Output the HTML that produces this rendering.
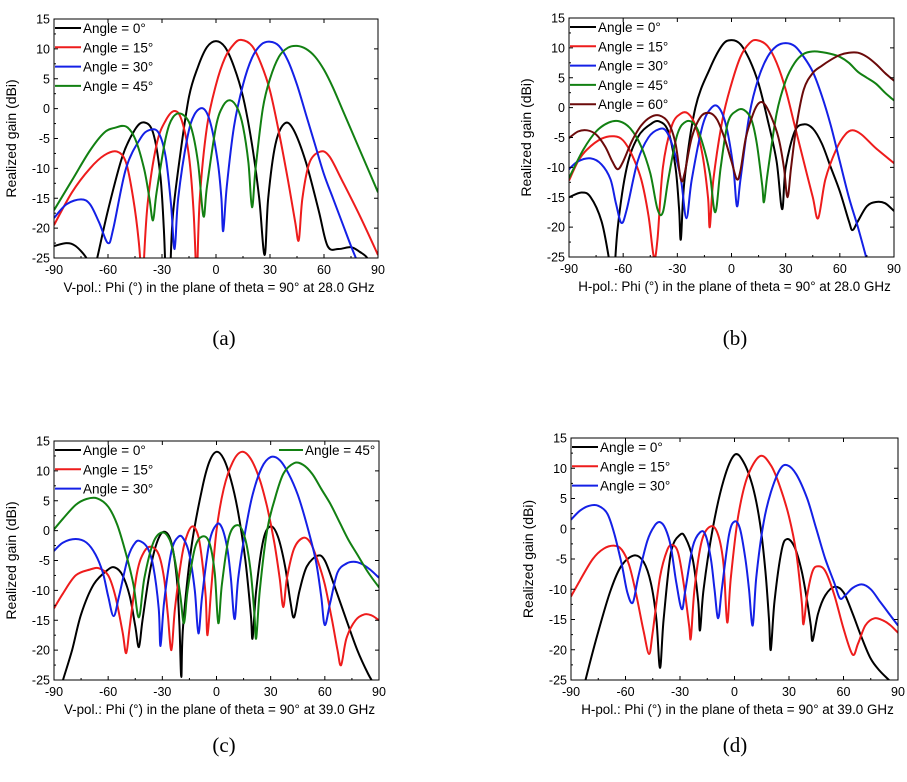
<!DOCTYPE html>
<html><head><meta charset="utf-8"><style>
body{margin:0;background:#fff;}
svg text{font-family:"Liberation Sans",Arial,sans-serif;}
</style></head><body>
<svg id="s" width="907" height="777" xmlns="http://www.w3.org/2000/svg"></svg>
<script>
const S=document.getElementById('s');
const NS='http://www.w3.org/2000/svg';
function el(t,a,txt){const e=document.createElementNS(NS,t);for(const k in a)e.setAttribute(k,a[k]);if(txt!==undefined)e.textContent=txt;S.appendChild(e);return e;}
const C={k:'#000',r:'#ee1c1c',b:'#1420e6',g:'#128012',m:'#6b0a0a'};
function path(P,X,Y){
 let d='M'+X(P[0][0]).toFixed(1)+','+Y(P[0][1]).toFixed(1);
 for(let i=0;i<P.length-1;i++){const p0=P[Math.max(0,i-1)],p1=P[i],p2=P[i+1],p3=P[Math.min(P.length-1,i+2)];
  const x1=X(p1[0])+(X(p2[0])-X(p0[0]))/6,y1=Y(p1[1])+(Y(p2[1])-Y(p0[1]))/6;
  const x2=X(p2[0])-(X(p3[0])-X(p1[0]))/6,y2=Y(p2[1])-(Y(p3[1])-Y(p1[1]))/6;
  d+=' C'+x1.toFixed(1)+','+y1.toFixed(1)+' '+x2.toFixed(1)+','+y2.toFixed(1)+' '+X(p2[0]).toFixed(1)+','+Y(p2[1]).toFixed(1);}
 return d;}
let cid=0;
function plot(L,R,T,B,xlabel,series,legend,leg2,sub,subx,suby){
 const X=v=>L+(v+90)/180*(R-L),Y=v=>T+(15-v)/40*(B-T);
 const id='c'+(cid++);
 const cp=el('clipPath',{id:id});const rc=document.createElementNS(NS,'rect');cp.appendChild(rc);
 rc.setAttribute('x',L);rc.setAttribute('y',T);rc.setAttribute('width',R-L);rc.setAttribute('height',B-T);
 for(const [c,P] of series){el('path',{d:path(P,X,Y),fill:'none',stroke:C[c],'stroke-width':2,'clip-path':'url(#'+id+')'});}
 el('rect',{x:L,y:T,width:R-L,height:B-T,fill:'none',stroke:'#000','stroke-width':1});
 for(let v=-25;v<=15;v+=5){el('line',{x1:L,x2:L+4,y1:Y(v),y2:Y(v),stroke:'#000'});el('line',{x1:R,x2:R-4,y1:Y(v),y2:Y(v),stroke:'#000'});
  el('text',{x:L-4,y:Y(v)+4.5,'text-anchor':'end','font-size':12.5},v);
  if(v<15){el('line',{x1:L,x2:L+2,y1:Y(v+2.5),y2:Y(v+2.5),stroke:'#000'});}}
 for(let v=-90;v<=90;v+=30){el('line',{x1:X(v),x2:X(v),y1:B,y2:B-4,stroke:'#000'});el('line',{x1:X(v),x2:X(v),y1:T,y2:T+4,stroke:'#000'});
  el('text',{x:X(v),y:B+16,'text-anchor':'middle','font-size':12.5},v);
  if(v<90)el('line',{x1:X(v+15),x2:X(v+15),y1:B,y2:B-2,stroke:'#000'});}
 el('text',{x:(L+R)/2+3,y:B+34,'text-anchor':'middle','font-size':13.4},xlabel);
 const ty=(T+B)/2;el('text',{x:0,y:0,transform:'translate('+(L-38)+','+ty+') rotate(-90)','text-anchor':'middle','font-size':14},'Realized gain (dBi)');
 legend.forEach((a,i)=>{const y=T+9+i*19.3;el('line',{x1:L+1,x2:L+27,y1:y,y2:y,stroke:C[a[0]],'stroke-width':2});
  el('text',{x:L+29,y:y+5,'font-size':13.5},'Angle = '+a[1]+'°');});
 if(leg2){const y=T+9;el('line',{x1:R-100,x2:R-76,y1:y,y2:y,stroke:C.g,'stroke-width':2});el('text',{x:R-74,y:y+5,'font-size':13.5},'Angle = 45°');}
 el('text',{x:subx,y:suby,'text-anchor':'middle','font-size':21,style:'font-family:"Liberation Serif",serif'},sub);
}
plot(54,378,19,258,'V-pol.: Phi (°) in the plane of theta = 90° at 28.0 GHz',[
['k',[[-90,-23],[-83,-22.5],[-78,-23],[-72,-25],[-70,-27]]],
['k',[[-68,-27],[-66,-25],[-60,-17],[-52,-8],[-45,-3.5],[-40,-2.3],[-35,-4],[-31,-11],[-29,-20],[-28,-28]]],
['k',[[-25.5,-28],[-24,-18],[-20,-8],[-15,2],[-10,7],[-5,10.3],[0,11.3],[5,10.3],[10,7],[15,2],[20,-6],[24,-15],[27,-24.5],[29,-15],[33,-6],[38,-2.5],[43,-3.5],[50,-9],[57,-17],[62,-23],[68,-23.5],[75,-23.2],[80,-24],[84,-25],[86,-27]]],
['r',[[-90,-19.5],[-80,-14],[-70,-10],[-62,-7.8],[-55,-7.2],[-50,-9],[-46,-15],[-43,-22],[-41.5,-28]]],
['r',[[-40.5,-28],[-38,-16],[-33,-6],[-28,-2],[-23,-0.4],[-19,-2],[-15,-8],[-12.5,-17],[-11,-28]]],
['r',[[-10.5,-28],[-9,-15],[-5,-3],[0,4],[5,8.5],[10,10.8],[14,11.5],[20,10.5],[25,7.5],[30,3],[35,-4],[40,-12],[44,-19],[46,-22],[48,-15],[52,-9],[58,-7.2],[63,-8],[70,-12],[80,-18],[90,-24.5]]],
['b',[[-90,-18.3],[-83,-16],[-75,-15.2],[-70,-16],[-65,-19],[-60,-22.5],[-57,-20],[-50,-10],[-42,-5],[-37,-3.6],[-32,-4],[-28,-8],[-25,-16],[-23,-23.5],[-21,-15],[-16,-5],[-12,-1],[-7,0],[-3,-2.5],[1,-9],[3,-15],[4,-20.5],[6,-13],[10,-3],[15,4],[20,8.5],[25,10.7],[30,11.2],[35,10.5],[40,8],[45,4],[50,-1],[55,-6],[60,-11],[65,-15],[70,-19],[75,-23],[79,-26],[81,-28]]],
['g',[[-90,-17],[-80,-12],[-70,-7],[-62,-4],[-56,-3.2],[-50,-3],[-45,-5],[-40,-10],[-37,-15],[-35,-18.7],[-33,-14],[-28,-5],[-24,-1.5],[-19,-0.9],[-14,-3],[-10,-9],[-7,-18],[-5,-13],[0,-3],[4,0.5],[8,1.4],[12,0],[15,-3],[18,-9],[20,-16.5],[22,-10],[26,0],[30,5],[35,8.7],[40,10.2],[45,10.5],[50,10],[55,8.7],[60,6.5],[65,3.5],[70,0],[75,-3.5],[80,-7],[85,-10.5],[90,-14]]]
],[['k',0],['r',15],['b',30],['g',45]],false,'(a)',224,345);
plot(569,894,18,257,'H-pol.: Phi (°) in the plane of theta = 90° at 28.0 GHz',[
['k',[[-90,-15],[-83,-14.2],[-78,-15],[-72,-19],[-68,-25],[-66,-29]]],
['k',[[-65,-29],[-63,-20],[-58,-10],[-52,-5],[-45,-2.8],[-40,-2.3],[-35,-4],[-31,-10],[-29,-17],[-28,-22],[-26,-12],[-20,0],[-12,6.5],[-5,10.5],[0,11.3],[5,10.6],[10,8],[15,4],[20,-2],[25,-9],[28,-17],[30,-10],[35,-4],[40,-2.8],[45,-3.5],[50,-6],[55,-10],[60,-14],[65,-19],[67,-20.5],[70,-19],[75,-16.5],[80,-15.8],[85,-16],[90,-17.3]]],
['r',[[-90,-12.2],[-85,-9],[-80,-7],[-72,-5.2],[-65,-4.8],[-60,-5.5],[-55,-8],[-50,-12],[-46,-18],[-43,-25],[-41,-22],[-38,-10],[-33,-3],[-28,-1],[-24,-1],[-20,-3],[-16,-8],[-13,-15],[-12,-20],[-10,-12],[-5,-2],[0,4],[5,8.5],[10,10.8],[14,11.3],[20,10.3],[25,7.5],[30,3],[35,-3],[40,-9],[45,-15],[48,-18.5],[52,-12],[58,-7],[63,-4.5],[67,-3.8],[72,-4.5],[80,-6.8],[90,-9.3]]],
['b',[[-90,-10.3],[-85,-9],[-78,-8.5],[-72,-9.5],[-67,-12],[-64,-16],[-61,-19.3],[-58,-17],[-52,-9],[-46,-5],[-40,-3.6],[-36,-4],[-32,-7],[-28,-12],[-25,-18.5],[-22,-12],[-16,-3],[-11,0],[-7,0],[-3,-3],[1,-10],[3,-16.5],[5,-12],[10,-1],[15,5],[20,8.5],[25,10.3],[30,10.8],[35,10.3],[40,8.5],[45,6],[50,2],[55,-3],[60,-9],[65,-15],[70,-20],[75,-25.5],[78,-29]]],
['g',[[-90,-11.8],[-82,-7],[-75,-4],[-68,-2.5],[-62,-2.3],[-56,-3.5],[-50,-6.5],[-45,-11],[-41,-17],[-38,-17.5],[-35,-12],[-30,-4.5],[-25,-2.3],[-20,-3],[-16,-6],[-12,-11],[-9,-17.5],[-6,-10],[-2,-2.5],[3,-0.5],[7,-0.4],[11,-2],[14,-6],[17,-13],[18,-15.8],[20,-11],[25,-1],[30,4.5],[35,7.5],[40,9],[45,9.4],[50,9.3],[55,9],[60,8.5],[65,7.5],[70,6],[75,5],[80,4],[85,2.5],[90,1.2]]],
['m',[[-90,-5.1],[-85,-4],[-80,-3.8],[-75,-4.5],[-70,-6.5],[-66,-9],[-63,-10.3],[-60,-9],[-55,-5.5],[-50,-3],[-45,-1.6],[-40,-1.3],[-35,-2.5],[-31,-6],[-28,-12],[-26,-11],[-22,-5],[-17,-1.5],[-12,-0.9],[-8,-2],[-4,-5],[0,-9],[3,-12],[5,-10.5],[8,-5],[12,-1],[15,0.7],[18,0.7],[22,-1.5],[26,-5],[29,-10],[31,-15],[33,-10],[36,-3],[40,3],[45,5.8],[50,7],[55,8],[60,8.8],[65,9.2],[70,9.2],[75,8.5],[80,7.3],[85,5.8],[90,4.5]]]
],[['k',0],['r',15],['b',30],['g',45],['m',60]],false,'(b)',735,345);
plot(54,379,441,680,'V-pol.: Phi (°) in the plane of theta = 90° at 39.0 GHz',[
['k',[[-88,-28],[-85,-25],[-80,-20],[-75,-14],[-68,-9],[-60,-6.5],[-56,-6.2],[-52,-7.5],[-48,-11],[-45,-16],[-43,-19.5],[-41,-15],[-37,-7],[-33,-2],[-29,-0.2],[-25,-2],[-22,-8],[-20.5,-16],[-19.5,-24.5],[-18.5,-16],[-14,-3],[-8,7],[-4,11.5],[0,13.2],[4,12],[8,8.5],[12,3],[16,-5],[19,-14],[20,-18],[22,-10],[26,-1.5],[30,0.7],[34,-1],[38,-6],[41,-12],[43,-14.5],[46,-10],[50,-6],[56,-4.2],[60,-5],[65,-9],[72,-15],[78,-20],[84,-24],[88,-26]]],
['r',[[-90,-13],[-85,-10.5],[-78,-7.5],[-70,-6.5],[-65,-6.3],[-60,-7.5],[-56,-11],[-52,-17],[-50,-20.5],[-48,-16],[-44,-7],[-40,-3.5],[-36,-2.7],[-32,-4],[-29,-8],[-27,-14],[-25,-20],[-23,-13],[-19,-4],[-16,-0.5],[-13,0.7],[-10,-1],[-8,-5],[-6,-11],[-5,-17.5],[-3,-10],[0,0],[4,7],[9,11.5],[14,13.2],[19,12],[24,8.5],[28,4],[32,-2],[35,-8],[37,-12.8],[39,-8],[43,-3],[48,-1.2],[52,-2],[56,-5],[60,-9],[64,-15],[67,-20],[69,-22.5],[72,-18],[77,-15],[82,-14],[86,-14.2],[90,-15]]],
['b',[[-90,-3.4],[-85,-2],[-78,-1.4],[-72,-2],[-67,-4],[-63,-7],[-60,-11],[-57,-14.3],[-54,-11],[-49,-4.5],[-45,-2],[-42,-1.8],[-38,-3],[-35,-6],[-32,-13],[-31,-19.3],[-29,-12],[-25,-3.5],[-21,-1],[-18,-1.5],[-15,-4],[-12,-10],[-10,-17.2],[-8,-11],[-4,-2],[0,1],[3,0.5],[6,-3],[8,-8],[10,-14.8],[12,-8],[16,0],[20,6],[25,10.5],[30,12.3],[35,11.8],[40,9.5],[45,6],[50,1],[55,-5],[58,-11],[60,-15.8],[63,-12],[67,-7],[72,-5.5],[76,-5.2],[80,-5.5],[85,-6.5],[90,-7.9]]],
['g',[[-90,0.2],[-85,2],[-78,4.3],[-72,5.3],[-66,5.4],[-60,4],[-55,1],[-50,-4],[-46,-9],[-43,-14.5],[-40,-8],[-35,-2],[-30,-0.3],[-26,-1.5],[-23,-5],[-20,-11],[-18,-15.5],[-16,-10],[-12,-3],[-8,-1],[-4,-2],[-1,-7],[1,-15.5],[3,-9],[7,-1],[12,0.9],[16,-1.5],[19,-7],[21,-14],[22,-18],[24,-10],[28,0],[32,5],[37,9.5],[43,11.3],[48,11],[53,9.5],[58,7],[63,4.5],[68,1.5],[73,-1.5],[78,-4],[84,-7],[90,-9.5]]]
],[['k',0],['r',15],['b',30]],true,'(c)',224,752);
plot(571,898,438,680,'H-pol.: Phi (°) in the plane of theta = 90° at 39.0 GHz',[
['k',[[-84,-28],[-82,-25],[-75,-17],[-68,-10],[-62,-6],[-55,-4.4],[-50,-5.5],[-46,-9],[-43,-15],[-41,-23],[-39,-15],[-35,-4],[-30,-1],[-27,-1.5],[-23,-5],[-20,-12],[-19,-16.8],[-17,-10],[-12,0],[-6,8],[0,12.2],[5,11],[10,7],[14,1],[17,-7],[19,-15],[20,-20],[22,-12],[26,-3.5],[29,-1.7],[33,-3],[37,-7],[40,-12],[42,-16],[43,-18.5],[46,-14],[50,-11],[55,-9.6],[60,-10.5],[65,-14],[70,-18],[75,-21.5],[80,-23.5],[85,-25],[88,-26]]],
['r',[[-90,-11.2],[-85,-8.5],[-78,-5],[-72,-3.3],[-66,-2.8],[-62,-3.5],[-58,-6],[-54,-11],[-50,-17],[-47,-20.7],[-45,-17],[-41,-8],[-37,-3.5],[-34,-2.7],[-31,-4],[-28,-9],[-25,-16],[-24,-18],[-22,-10],[-18,-2],[-13,0.4],[-9,-1],[-6,-6],[-4,-15.5],[-2,-8],[2,2],[7,8.5],[14,12],[20,10.5],[25,7],[30,2],[34,-4],[37,-12],[38,-15.8],[40,-11],[43,-7],[46,-6.2],[50,-7],[55,-11],[60,-16.5],[65,-20.8],[68,-19],[72,-16],[77,-14.8],[82,-15.2],[86,-16],[90,-17.2]]],
['b',[[-90,1.5],[-85,3],[-80,3.8],[-75,3.8],[-70,2.5],[-66,-1],[-62,-6],[-59,-10.5],[-56,-12.2],[-53,-8],[-48,-2],[-44,0.5],[-41,1.1],[-38,0],[-35,-3],[-32,-9],[-29,-13.3],[-27,-10],[-23,-3],[-19,-0.6],[-16,-1],[-13,-5],[-11,-10],[-9,-14.8],[-7,-10],[-3,-1],[0,1.2],[3,0],[6,-5],[8,-10],[10,-16],[12,-8],[16,1],[20,6],[25,9.8],[29,10.5],[34,9],[40,5],[45,0],[50,-5],[55,-9],[58,-11.5],[61,-11],[65,-9.8],[70,-9.2],[75,-10],[80,-12],[85,-14],[90,-16]]]
],[['k',0],['r',15],['b',30]],false,'(d)',735,752);
</script>
</body></html>
